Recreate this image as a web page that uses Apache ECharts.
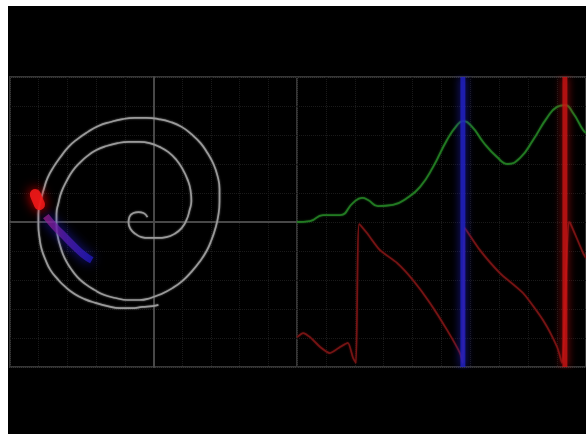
<!DOCTYPE html>
<html>
<head>
<meta charset="utf-8">
<script src="https://cdn.jsdelivr.net/npm/echarts@6/dist/echarts.min.js"></script>
<style>
html,body{margin:0;padding:0;background:#fff;}
#c{position:absolute;left:8px;top:6px;width:578px;height:428px;background:#000;}
</style>
</head>
<body>
<div id="c"></div>
<script>
// Left panel (X-Y display): spiral trace, in screen divisions
const spiralX = [-0.21,-0.35,-0.52,-0.70,-0.84,-0.87,-0.80,-0.63,-0.42,-0.17,0.14,0.45,0.73,0.98,1.15,1.25,1.32,1.29,1.18,1.01,0.80,0.52,0.21,-0.14,-0.49,-0.87,-1.25,-1.64,-1.99,-2.30,-2.58,-2.82,-3.03,-3.21,-3.31,-3.38,-3.38,-3.34,-3.24,-3.10,-2.89,-2.65,-2.37,-2.06,-1.71,-1.32,-0.91,-0.49,-0.10,0.28,0.66,1.01,1.32,1.60,1.85,2.02,2.16,2.26,2.30,2.30,2.23,2.09,1.88,1.64,1.32,0.98,0.59,0.17,-0.24,-0.66,-1.08,-1.50,-1.92,-2.30,-2.65,-2.96,-3.24,-3.48,-3.69,-3.83,-3.94,-4.01,-4.01,-3.97,-3.90,-3.76,-3.59,-3.34,-3.07,-2.75,-2.40,-2.02,-1.60,-1.18,-0.77,-0.38,-0.03,0.17];
const spiralY = [0.17,0.31,0.34,0.31,0.17,-0.03,-0.24,-0.41,-0.52,-0.55,-0.55,-0.52,-0.41,-0.21,0.07,0.38,0.72,1.10,1.48,1.83,2.14,2.41,2.59,2.72,2.76,2.76,2.72,2.62,2.48,2.28,2.03,1.76,1.41,1.03,0.66,0.28,-0.10,-0.48,-0.86,-1.24,-1.59,-1.90,-2.14,-2.34,-2.52,-2.62,-2.69,-2.69,-2.62,-2.48,-2.28,-2.03,-1.72,-1.38,-1.00,-0.62,-0.21,0.24,0.69,1.14,1.59,2.00,2.38,2.72,3.03,3.28,3.45,3.55,3.59,3.59,3.55,3.45,3.31,3.10,2.86,2.59,2.24,1.90,1.52,1.10,0.69,0.28,-0.14,-0.55,-0.93,-1.31,-1.66,-1.97,-2.24,-2.48,-2.66,-2.79,-2.90,-2.97,-2.97,-2.93,-2.90,-2.86];
// glowing spot (red) and its trail (purple -> blue)
const spotX = [-4.12,-4.05,-3.97];
const spotY = [0.95,0.78,0.6];
const trailX = [-3.75,-3.45,-3.15,-2.8,-2.45,-2.15];
const trailY = [0.2,-0.15,-0.45,-0.8,-1.12,-1.32];

// Right panel (time display)
const greenX = [0,0.45,0.90,1.49,1.94,2.25,2.46,2.80,3.32,3.81,4.26,4.71,5.19,5.54,5.74,6.06,6.44,6.92,7.30,7.72,8.17,8.65,9.00,9.27,9.55,9.90,10.0];
const greenY = [0,0.03,0.24,0.24,0.66,0.83,0.76,0.55,0.59,0.83,1.21,1.90,2.83,3.34,3.48,3.28,2.76,2.24,2.00,2.21,2.83,3.59,3.97,4.03,3.76,3.17,3.07];
const redX = [0,0.21,0.45,0.80,1.14,1.49,1.76,1.94,2.04,2.15,2.42,2.87,3.46,4.01,4.60,5.19,5.64,5.74,5.80,6.33,7.02,7.82,8.51,9.00,9.17,9.40,9.45,9.90,10.0];
const redY = [-3.97,-3.83,-3.97,-4.31,-4.52,-4.31,-4.17,-4.69,-4.86,-0.07,-0.38,-0.97,-1.41,-2.0,-2.79,-3.72,-4.52,-4.86,-0.2,-0.97,-1.76,-2.45,-3.38,-4.31,-4.86,0,-0.03,-1.07,-1.24];
// cursor bars
const cursorX = [5.74, 9.27];
const cursorColor = ['#2222c8', '#cc1414'];

const zip = (a,b)=>a.map((v,i)=>[v,b[i]]);

const gridLine = {show:true, lineStyle:{color:'#1a1a1a', width:1, type:'dotted'}};
function axis(gi, min, max, axisLineShow){
  return {type:'value', gridIndex:gi, min:min, max:max, interval:1,
    axisLabel:{show:false}, axisTick:{show:false},
    axisLine:{show:axisLineShow, onZero:true, lineStyle:{color:'#484848', width:2}},
    splitLine:gridLine};
}

const chart = echarts.init(document.getElementById('c'), null, {renderer:'canvas'});
const series = [
  {type:'line', xAxisIndex:0, yAxisIndex:0, data:zip(spiralX,spiralY), smooth:0.5, showSymbol:false,
   lineStyle:{color:'#9a9a9a', width:1.7, shadowBlur:2, shadowColor:'#777'}, z:3},
  {type:'line', xAxisIndex:0, yAxisIndex:0, data:zip(trailX,trailY), smooth:true, showSymbol:false,
   lineStyle:{width:7, color:new echarts.graphic.LinearGradient(0,0,1,0,[{offset:0,color:'#a0208a'},{offset:0.4,color:'#5a1cb0'},{offset:1,color:'#1a1ac8'}]),
   shadowBlur:12, shadowColor:'#2020d0', opacity:0.75}, z:4},
  {type:'line', xAxisIndex:0, yAxisIndex:0, data:zip(spotX,spotY), smooth:true, showSymbol:false,
   lineStyle:{width:11, color:'#f01818', shadowBlur:12, shadowColor:'#ff0000', cap:'round', opacity:0.9}, z:5},
  {type:'line', xAxisIndex:1, yAxisIndex:1, data:zip(greenX,greenY), smooth:true, showSymbol:false,
   lineStyle:{color:'#227a22', width:1.8, shadowBlur:2, shadowColor:'#1a5a1a'}, z:3},
  {type:'line', xAxisIndex:1, yAxisIndex:1, data:zip(redX,redY), smooth:0.2, showSymbol:false,
   lineStyle:{color:'#761414', width:1.7, shadowBlur:2, shadowColor:'#500c0c'}, z:3}
];
cursorX.forEach((x,i)=>{
  series.push({type:'line', xAxisIndex:1, yAxisIndex:1, data:[[x,-5],[x,5]], showSymbol:false,
    lineStyle:{color:cursorColor[i], width:5, shadowBlur:8, shadowColor:cursorColor[i], opacity:0.8}, z:4});
});

chart.setOption({
  backgroundColor:'#000',
  animation:false,
  grid:[
    {left:2, top:71, width:287, height:290, show:true, borderColor:'#363636', borderWidth:2, backgroundColor:'transparent'},
    {left:289, top:71, width:291, height:290, show:true, borderColor:'#363636', borderWidth:2, backgroundColor:'transparent'}
  ],
  xAxis:[axis(0,-5,5,true), axis(1,0,10,false)],
  yAxis:[axis(0,-5,5,true), axis(1,-5,5,false)],
  series:series
});
</script>
</body>
</html>
